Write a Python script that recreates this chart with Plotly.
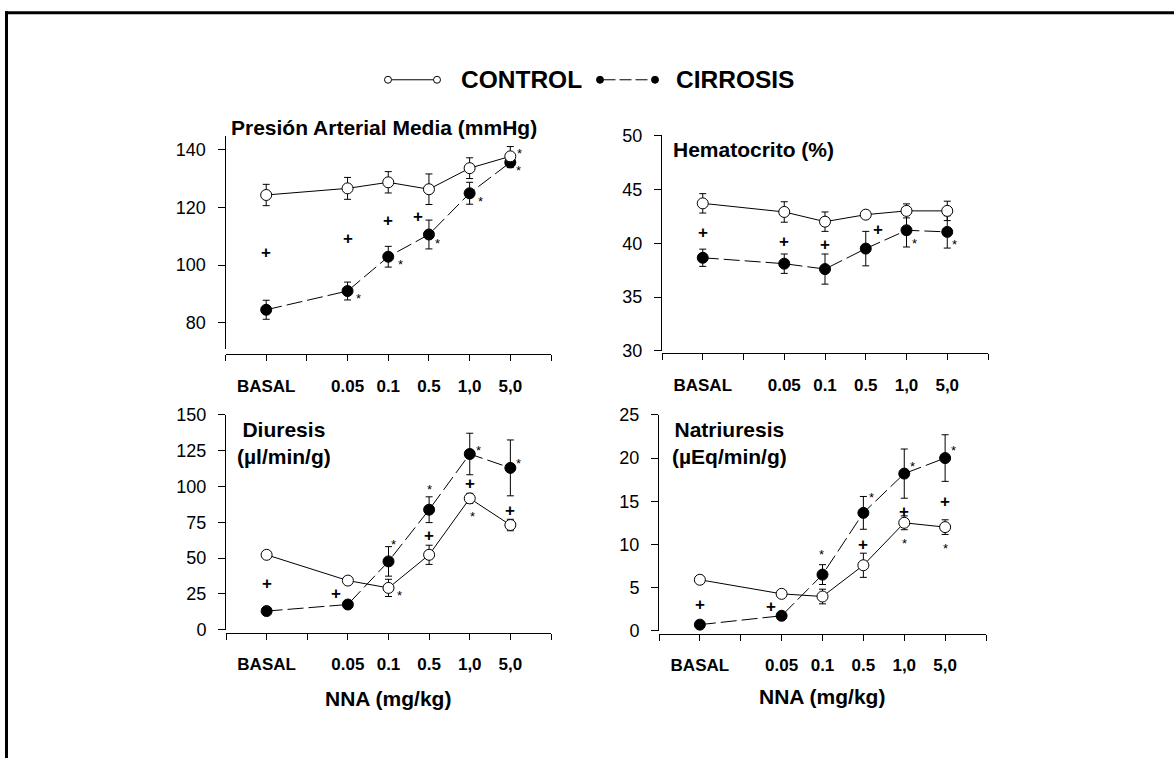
import plotly.graph_objects as go

# figure size; the page shows the figure 8px down and slightly squeezed vertically,
# so vertical positions are given in page pixels and mapped back with K and TOP
W, H = 1174, 766
K = 758 / 774
TOP = 8

# ---- doses (x categories) ----
dose_labels = ["BASAL", "0.05", "0.1", "0.5", "1,0", "5,0"]
dose_pos = [1, 3, 4, 5, 6, 7]

# ---- Presión Arterial Media (mmHg) ----
pam_control = [124.3, 126.6, 128.7, 126.3, 133.6, 137.7]
pam_control_err = [3.7, 3.8, 3.7, 5.3, 3.6, 3.4]
pam_cirrosis = [84.5, 91.0, 102.9, 110.6, 124.9, 135.6]
pam_cirrosis_err = [3.3, 3.1, 3.6, 5.0, 3.8, 1.8]
pam_plus = [104.4, 109.2, 115.3, 116.7, None, None]

# ---- Hematocrito (%) ----
hto_control = [43.7, 42.9, 42.0, 42.65, 43.0, 43.0]
hto_control_err = [0.9, 0.95, 0.9, 0.35, 0.65, 0.9]
hto_cirrosis = [38.65, 38.1, 37.6, 39.5, 41.2, 41.05]
hto_cirrosis_err = [0.8, 0.9, 1.4, 1.6, 1.55, 1.5]
hto_plus = [41.0, 40.15, 39.85, 41.25, None, None]

# ---- Diuresis (µl/min/g) ----
diu_control = [52.3, 34.3, 29.2, 52.3, 91.7, 73.1]
diu_control_err = [1.5, 1.5, 6.0, 6.7, 3.5, 4.0]
diu_cirrosis = [13.0, 17.6, 47.7, 83.8, 122.7, 113.0]
diu_cirrosis_err = [1.0, 2.0, 10.3, 9.0, 14.5, 19.5]
diu_plus = [32.4, 25.0, None, 65.5, 101.9, 83.3]

# ---- Natriuresis (µEq/min/g) ----
nat_control = [5.9, 4.27, 3.96, 7.58, 12.5, 12.0]
nat_control_err = [0.2, 0.2, 0.85, 1.4, 0.8, 0.85]
nat_cirrosis = [0.7, 1.73, 6.5, 13.65, 18.2, 20.0]
nat_cirrosis_err = [0.2, 0.2, 1.15, 1.9, 2.85, 2.7]
nat_plus = [3.0, 2.85, None, 10.0, 13.8, 15.0]


def px(x):
    """page pixel x -> paper fraction"""
    return x / W


def py(y):
    """page pixel y -> paper fraction"""
    return 1 - (y / K - TOP) / H


FONT = "Arial, Liberation Sans, sans-serif"

# panel layout: pixel boxes (left, right, top, bottom), x-axis line position, y range
panels = [
    dict(ctrl=pam_control, ctrl_e=pam_control_err, cirr=pam_cirrosis, cirr_e=pam_cirrosis_err,
         plus=pam_plus, plus_shift={3: -11},
         stars=[("cirr", 1, 11, 3), ("cirr", 2, 12, 4), ("cirr", 3, 9, 5), ("cirr", 4, 11, 4),
                ("ctrl", 5, 9, -7), ("cirr", 5, 8, 4)],
         box=(225.5, 551, 135, 349), xline=354, yrange=[70.8, 144.6],
         yticks=[80, 100, 120, 140]),
    dict(ctrl=hto_control, ctrl_e=hto_control_err, cirr=hto_cirrosis, cirr_e=hto_cirrosis_err,
         plus=hto_plus, plus_shift={3: 12},
         stars=[("cirr", 4, 8, 9), ("cirr", 5, 7, 9)],
         box=(662, 988, 134, 350.7), xline=353, yrange=[30, 50],
         yticks=[30, 35, 40, 45, 50]),
    dict(ctrl=diu_control, ctrl_e=diu_control_err, cirr=diu_cirrosis, cirr_e=diu_cirrosis_err,
         plus=diu_plus, plus_shift={1: -12},
         stars=[("ctrl", 2, 11, 4), ("cirr", 2, 5, -21), ("cirr", 3, 0, -24), ("cirr", 4, 9, -7),
                ("ctrl", 4, 3, 14), ("cirr", 5, 8, -8)],
         box=(226, 551, 415, 631), xline=634, yrange=[0, 150],
         yticks=[0, 25, 50, 75, 100, 125, 150]),
    dict(ctrl=nat_control, ctrl_e=nat_control_err, cirr=nat_cirrosis, cirr_e=nat_cirrosis_err,
         plus=nat_plus, plus_shift={1: -11},
         stars=[("cirr", 2, -1, -24), ("cirr", 3, 8, -19), ("cirr", 4, 8, -11), ("cirr", 5, 8, -12),
                ("ctrl", 4, 0, 17), ("ctrl", 5, 0, 17)],
         box=(659, 986, 415, 632), xline=635, yrange=[0, 25],
         yticks=[0, 5, 10, 15, 20, 25]),
]

fig = go.Figure()
annotations = []
shapes = []
tick_all = list(range(0, 9))
tick_txt = ["" if v not in dose_pos else dose_labels[dose_pos.index(v)] for v in tick_all]

for i, p in enumerate(panels, start=1):
    xa = "x" if i == 1 else f"x{i}"
    ya = "y" if i == 1 else f"y{i}"
    left, right, top, bottom = p["box"]

    # cirrosis: filled markers, dashed line
    fig.add_trace(go.Scatter(
        x=dose_pos, y=p["cirr"], xaxis=xa, yaxis=ya, mode="lines+markers",
        line=dict(color="black", width=1, dash="16px,5px"),
        marker=dict(symbol="circle", size=11, color="black", line=dict(color="black", width=1)),
        error_y=dict(type="data", array=p["cirr_e"], color="black", thickness=1, width=3.5),
        showlegend=False, cliponaxis=False))
    # control: open markers, solid line
    fig.add_trace(go.Scatter(
        x=dose_pos, y=p["ctrl"], xaxis=xa, yaxis=ya, mode="lines+markers",
        line=dict(color="black", width=1),
        marker=dict(symbol="circle", size=11, color="white", line=dict(color="black", width=1)),
        error_y=dict(type="data", array=p["ctrl_e"], color="black", thickness=1, width=3.5),
        showlegend=False, cliponaxis=False))

    axis_x = dict(domain=[px(left), px(right)], range=[0, 8], anchor="free", position=py(p["xline"]),
                  tickmode="array", tickvals=tick_all, ticktext=tick_txt,
                  ticks="outside", ticklen=6, tickwidth=1, tickcolor="black",
                  showline=True, linecolor="black", linewidth=1, showgrid=False, zeroline=False,
                  tickfont=dict(family=FONT, size=17, color="black", weight="bold"),
                  ticklabelstandoff=10)
    axis_y = dict(domain=[py(bottom), py(top)], range=p["yrange"], anchor=xa,
                  tickmode="array", tickvals=p["yticks"],
                  ticks="outside", ticklen=7, tickwidth=1, tickcolor="black",
                  showline=True, linecolor="black", linewidth=1, showgrid=False, zeroline=False,
                  tickfont=dict(family=FONT, size=18, color="black"),
                  ticklabelstandoff=8)
    fig.update_layout(**{("xaxis" if i == 1 else f"xaxis{i}"): axis_x,
                         ("yaxis" if i == 1 else f"yaxis{i}"): axis_y})

    # significance vs control (+)
    for k, v in enumerate(p["plus"]):
        if v is None:
            continue
        annotations.append(dict(x=dose_pos[k], y=v, xref=xa, yref=ya, text="<b>+</b>",
                                showarrow=False, xshift=p["plus_shift"].get(k, 0),
                                font=dict(family=FONT, size=17, color="black")))
    # significance vs basal (*)
    for series, k, dx, dy in p["stars"]:
        vals = p["ctrl"] if series == "ctrl" else p["cirr"]
        annotations.append(dict(x=dose_pos[k], y=vals[k], xref=xa, yref=ya, text="*",
                                showarrow=False, xshift=dx, yshift=-dy - 4,
                                font=dict(family=FONT, size=13, color="black")))

# panel titles
title_font = dict(family=FONT, size=21, color="black")
annotations += [
    dict(x=px(229), y=py(126), xref="paper", yref="paper", xanchor="left", yanchor="middle",
         text="<b>Presión Arterial Media (mmHg)</b>", showarrow=False, font=title_font),
    dict(x=px(671), y=py(148), xref="paper", yref="paper", xanchor="left", yanchor="middle",
         text="<b>Hematocrito (%)</b>", showarrow=False, font=title_font),
    dict(x=px(284), y=py(443), xref="paper", yref="paper", xanchor="center", yanchor="middle",
         text="<b>Diuresis<br>(µl/min/g)</b>", showarrow=False, font=title_font, align="center"),
    dict(x=px(729), y=py(443), xref="paper", yref="paper", xanchor="center", yanchor="middle",
         text="<b>Natriuresis<br>(µEq/min/g)</b>", showarrow=False, font=title_font, align="center"),
    dict(x=px(388), y=py(700), xref="paper", yref="paper", xanchor="center", yanchor="middle",
         text="<b>NNA (mg/kg)</b>", showarrow=False, font=title_font),
    dict(x=px(822), y=py(698), xref="paper", yref="paper", xanchor="center", yanchor="middle",
         text="<b>NNA (mg/kg)</b>", showarrow=False, font=title_font),
]

# legend drawn at the top
leg_y = 78
r = 3.5
shapes += [
    dict(type="line", xref="paper", yref="paper", x0=px(388 + r), x1=px(437 - r), y0=py(leg_y), y1=py(leg_y),
         line=dict(color="black", width=1)),
    dict(type="circle", xref="paper", yref="paper", x0=px(388 - r), x1=px(388 + r),
         y0=py(leg_y + r), y1=py(leg_y - r), line=dict(color="black", width=1), fillcolor="white"),
    dict(type="circle", xref="paper", yref="paper", x0=px(437 - r), x1=px(437 + r),
         y0=py(leg_y + r), y1=py(leg_y - r), line=dict(color="black", width=1), fillcolor="white"),
    dict(type="line", xref="paper", yref="paper", x0=px(600 + r), x1=px(655 - r), y0=py(leg_y), y1=py(leg_y),
         line=dict(color="black", width=1, dash="12px,4px")),
    dict(type="circle", xref="paper", yref="paper", x0=px(600 - r), x1=px(600 + r),
         y0=py(leg_y + r), y1=py(leg_y - r), line=dict(color="black", width=1), fillcolor="black"),
    dict(type="circle", xref="paper", yref="paper", x0=px(655 - r), x1=px(655 + r),
         y0=py(leg_y + r), y1=py(leg_y - r), line=dict(color="black", width=1), fillcolor="black"),
]
leg_font = dict(family=FONT, size=24.5, color="black")
annotations += [
    dict(x=px(459), y=py(leg_y), xref="paper", yref="paper", xanchor="left", yanchor="middle",
         text="<b>CONTROL</b>", showarrow=False, font=leg_font),
    dict(x=px(674), y=py(leg_y), xref="paper", yref="paper", xanchor="left", yanchor="middle",
         text="<b>CIRROSIS</b>", showarrow=False, font=leg_font),
]

# frame around the figure (top and left edges)
shapes += [
    dict(type="line", xref="paper", yref="paper", x0=px(5), x1=1.01, y0=py(10.5), y1=py(10.5),
         line=dict(color="black", width=3)),
    dict(type="line", xref="paper", yref="paper", x0=px(6.5), x1=px(6.5), y0=py(9), y1=-0.01,
         line=dict(color="black", width=3)),
]

fig.update_layout(
    width=W, height=H, margin=dict(l=0, r=0, t=0, b=0),
    paper_bgcolor="white", plot_bgcolor="white",
    showlegend=False, annotations=annotations, shapes=shapes,
    font=dict(family=FONT, color="black"),
)

fig.write_html("out.html", config={"displayModeBar": False, "responsive": False})
